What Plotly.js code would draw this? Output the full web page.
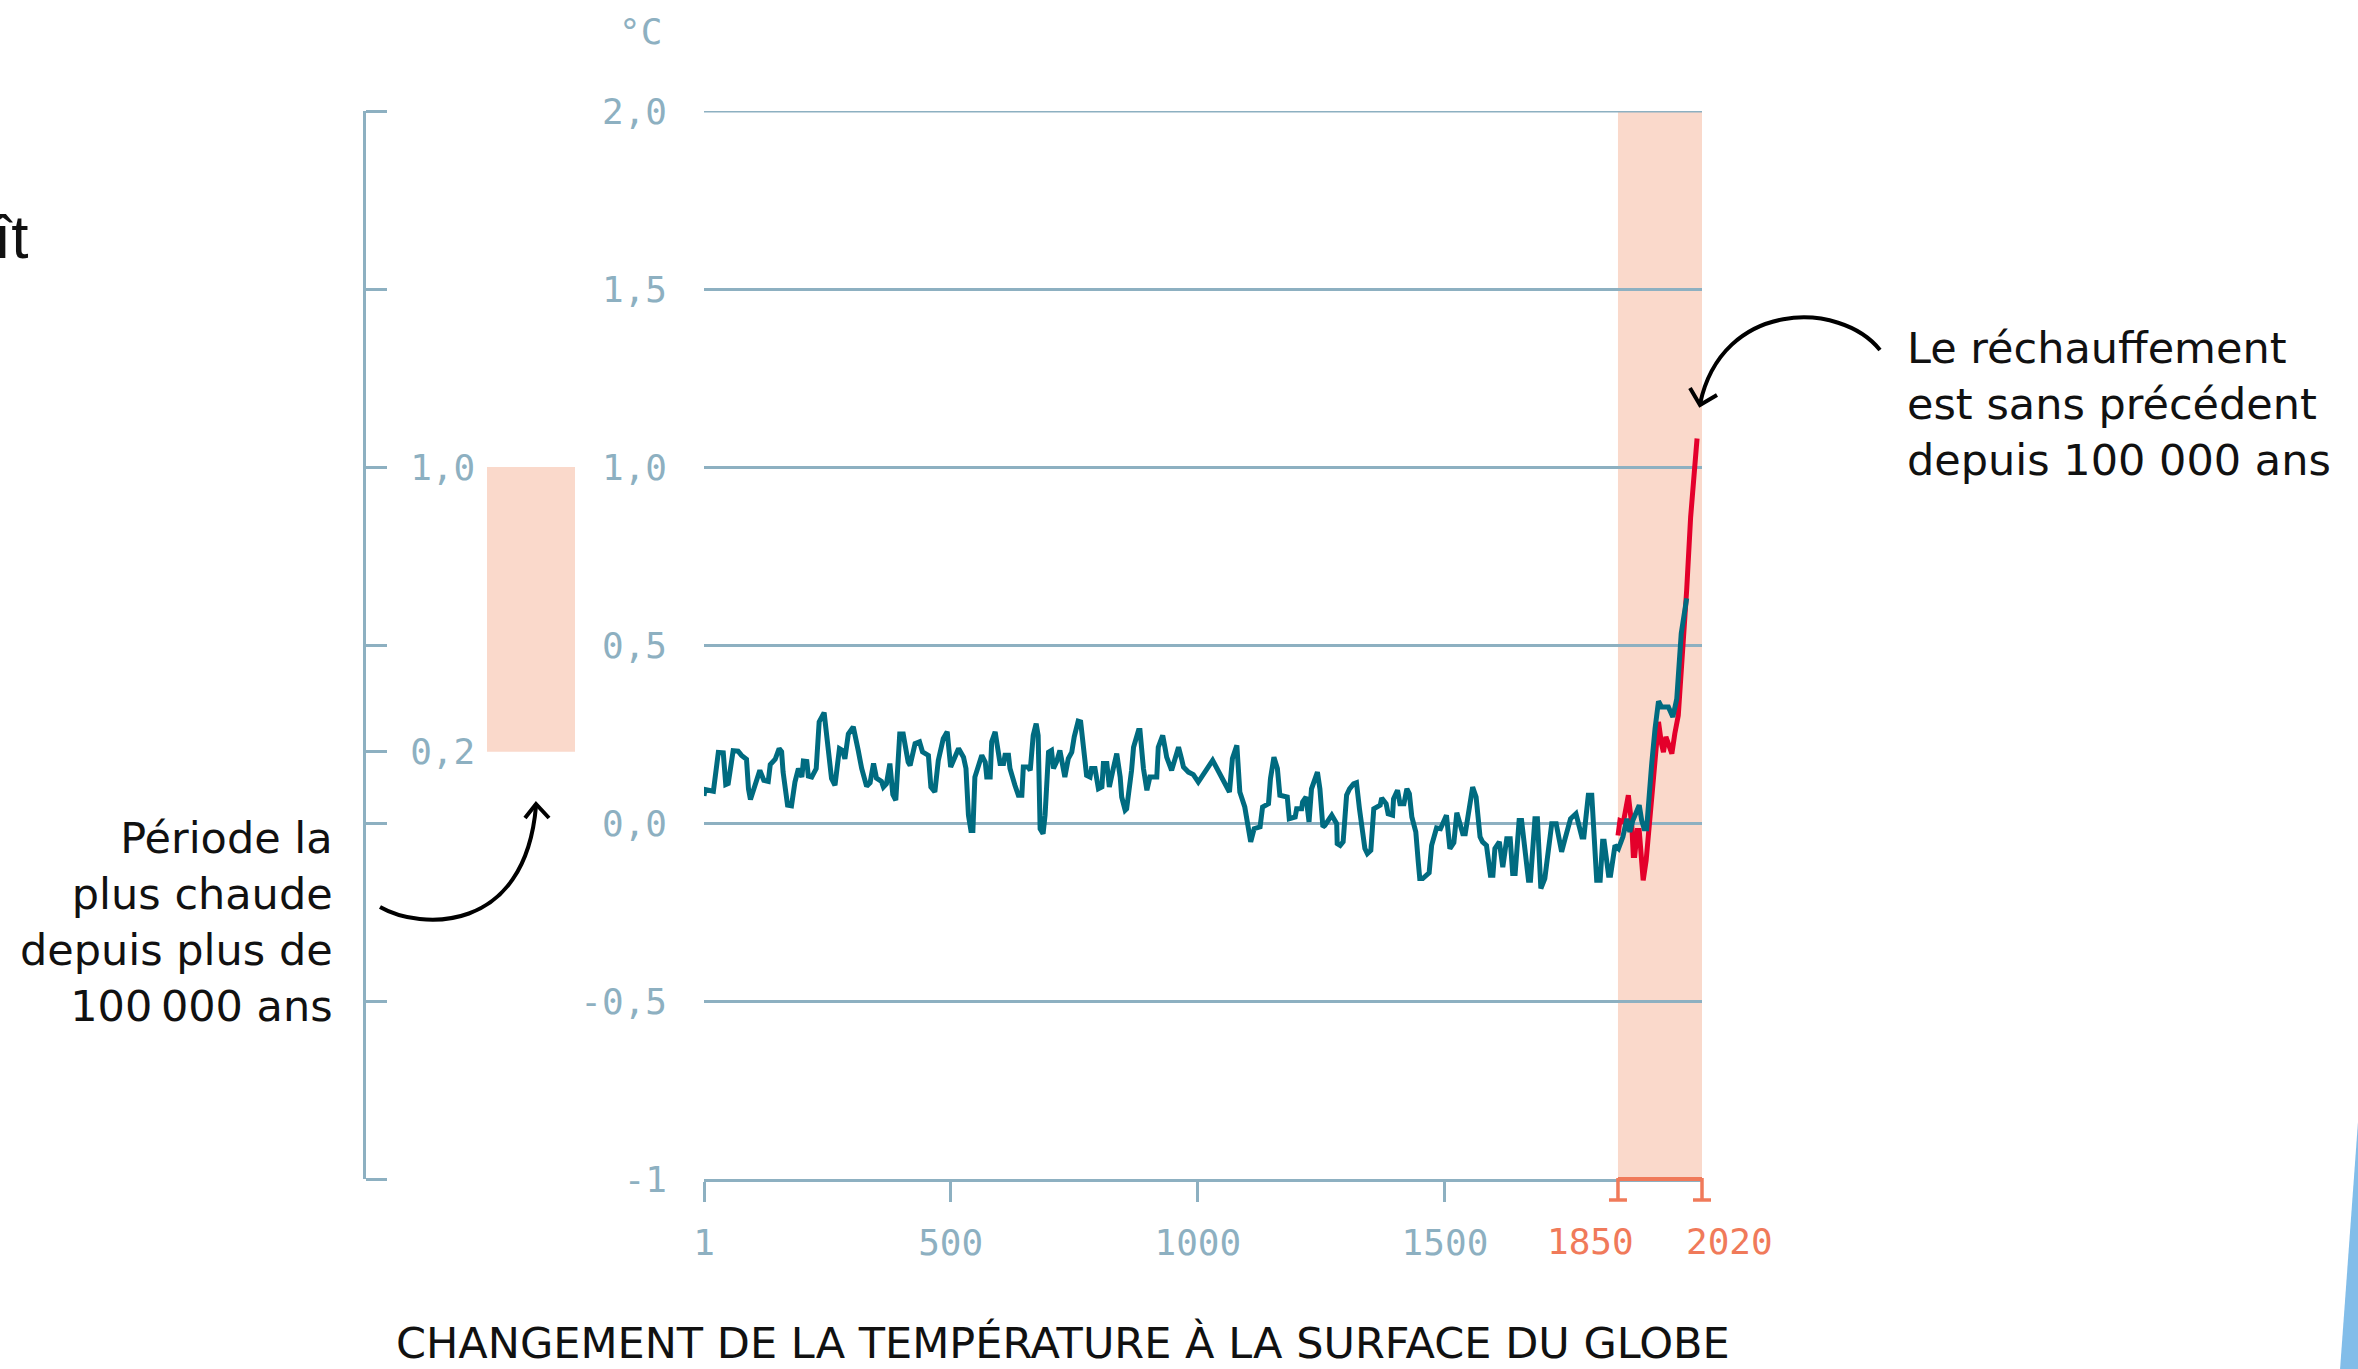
<!DOCTYPE html>
<html><head><meta charset="utf-8">
<script src="https://cdn.plot.ly/plotly-3.0.1.min.js"></script>
<style>html,body{margin:0;padding:0;background:#fff;overflow:hidden}#chart{width:2358px;height:1369px}</style>
</head><body><div id="chart"></div>
<script>
// ---------- data ----------
const reconYears = [1,3,20,30,40,45,50,60,70,77,87,91,95,102,108,114,122,131,135,145,153,158,161,170,178,185,192,199,202,209,212,219,228,234,244,249,259,266,275,281,286,293,303,313,320,330,337,344,350,360,364,370,377,383,389,397,404,414,418,428,437,443,455,460,468,475,485,493,500,
516,526,531,536,541,545,549,556,563,570,573,580,583,590,597,600,607,610,617,620,630,637,644,647,657,661,667,673,677,681,687,691,698,704,708,714,721,728,731,738,745,750,758,763,768,775,782,785,792,795,799,806,809,816,821,829,836,843,846,853,856,866,870,880,883,890,897,903,917,920,929,934,937,947,954,961,967,971,981,991,1001,
1030,1064,1070,1079,1085,1095,1102,1107,1114,1126,1131,1143,1147,1154,1161,1166,1181,1185,1197,1200,1210,1212,1219,1222,1225,1230,1242,1247,1253,1257,1271,1281,1282,1288,1294,1301,1307,1315,1321,1327,1333,1338,1343,1350,1356,1369,1372,1381,1385,1394,1396,1404,1409,1417,1423,1428,1433,1441,1446,1449,1455,1468,1473,1483,1491,1497,1503,
1510,1518,1524,1536,1541,1556,1563,1571,1576,1584,1592,1597,1601,1610,1617,1625,1632,1637,1642,1650,1655,1662,1669,1673,1682,1687,1694,1702,1709,1716,1725,1736,1743,1754,1765,1777,1781,1790,1797,1807,1814,1819,1822,1831,1835,1844,1851,1860,1868,1874,1880,1888,1893,1898,1903,1908,1915,1918,1925,1932,1938,1952,1961,1969,1978,1989];
const reconTemp = [0.076,0.094,0.089,0.198,0.197,0.108,0.111,0.203,0.202,0.190,0.179,0.096,0.066,0.096,0.132,0.148,0.120,0.117,0.164,0.179,0.209,0.200,0.143,0.050,0.048,0.115,0.153,0.129,0.174,0.173,0.132,0.129,0.153,0.284,0.310,0.237,0.125,0.106,0.209,0.204,0.180,0.250,0.270,0.204,0.153,0.103,0.113,0.167,0.126,0.117,0.101,0.110,0.167,0.080,0.064,0.250,0.250,0.171,0.162,0.223,0.228,0.200,0.190,0.101,0.087,0.176,0.237,0.256,0.157,
0.209,0.185,0.153,0.022,-0.021,-0.021,0.129,0.157,0.190,0.171,0.129,0.129,0.228,0.256,0.204,0.167,0.167,0.190,0.190,0.153,0.106,0.078,0.078,0.157,0.157,0.148,0.246,0.279,0.246,-0.016,-0.030,0.022,0.199,0.204,0.153,0.171,0.204,0.153,0.129,0.181,0.199,0.242,0.286,0.284,0.228,0.134,0.129,0.153,0.153,0.120,0.096,0.101,0.167,0.167,0.101,0.153,0.195,0.129,0.073,0.036,0.040,0.148,0.213,0.260,0.260,0.153,0.092,0.129,0.129,0.213,0.246,0.209,0.185,0.148,0.176,0.213,0.181,0.157,0.143,0.136,0.115,
0.176,0.087,0.181,0.218,0.087,0.045,-0.025,-0.053,-0.016,-0.011,0.045,0.054,0.125,0.185,0.153,0.078,0.073,0.012,0.017,0.040,0.040,0.059,0.073,0.031,0.003,0.096,0.143,0.096,-0.011,-0.007,0.022,-0.002,-0.058,-0.063,-0.053,0.078,0.096,0.110,0.113,0.040,-0.025,-0.072,-0.086,-0.077,0.040,0.050,0.070,0.054,0.026,0.022,0.068,0.092,0.054,0.054,0.096,0.082,0.017,-0.025,-0.110,-0.156,-0.156,-0.140,-0.063,-0.014,-0.016,0.007,0.022,
-0.072,-0.055,0.029,-0.030,-0.030,0.101,0.073,-0.039,-0.053,-0.063,-0.147,-0.147,-0.072,-0.053,-0.124,-0.044,-0.044,-0.142,-0.142,0.007,0.007,-0.091,-0.161,-0.161,0.012,0.012,-0.184,-0.156,-0.063,-0.002,-0.002,-0.081,-0.044,0.012,0.026,-0.039,-0.039,0.078,0.078,-0.161,-0.161,-0.051,-0.051,-0.147,-0.147,-0.063,-0.072,-0.039,0.012,-0.025,0.007,0.031,0.050,0.007,-0.016,-0.016,0.125,0.162,0.265,0.342,0.326,0.326,0.298,0.349,0.532,0.631];
const obsYears = [1850,1854,1861,1871,1878,1881,1884,1889,1893,1901,1907,1915,1923,1932,1938,1942,1947,1952,1959,1965,1972,1989,1997,2010];
const obsTemp  = [-0.035,0.007,0.003,0.078,-0.007,-0.091,-0.091,-0.021,-0.021,-0.161,-0.105,0.012,0.162,0.284,0.223,0.199,0.242,0.223,0.195,0.251,0.302,0.655,0.859,1.080];

const yTickVals = [-1,-0.5,0,0.5,1,1.5,2];
const yTickText = ['-1','-0,5','0,0','0,5','1,0','1,5','2,0'];
const xTickVals = [1,500,1000,1500];
const xTickText = ['1','500','1000','1500'];
const recentPeriod = [1850,2020];
const recentLabels = ['1850','2020'];
const paleoTickVals = [-1,-0.5,0,0.2,0.5,1,1.5,2];
const paleoTickText = ['','','','0,2','','1,0','',''];
const paleoRange = [0.2,1.0];
const yRange = [-1,2];
const xRange = [1,2020];
const unitLabel = '°C';
const chartTitle = 'CHANGEMENT DE LA TEMPÉRATURE À LA SURFACE DU GLOBE';
const noteRight = ['Le réchauffement','est sans précédent','depuis 100 000 ans'];
const noteLeft = ['Période la','plus chaude','depuis plus de','100\u202F000 ans'];
const cutText = 'ît';

// ---------- style ----------
const W=2358, H=1369, ml=364, mt=111, pw=1338, ph=1068;
const mr=W-ml-pw, mb=H-mt-ph;
const gridC='#8db0c1', teal='#006b80', redC='#e4002b', pink='#fad9cb', orange='#f07a5a';
const mono='"DejaVu Sans Mono", monospace';
const sans='"DejaVu Sans", "Noto Sans", sans-serif';
const px2x = p => (p-ml)/pw;
const py2y = p => 1-(p-mt)/ph;
const pt = (x,y) => px2x(x).toFixed(5)+','+py2y(y).toFixed(5);
const xDom = [px2x(704),1];
const yearToPaper = v => xDom[0] + (v-xRange[0])/(xRange[1]-xRange[0])*(xDom[1]-xDom[0]);

const traces = [
  {x:obsYears, y:obsTemp, type:'scatter', mode:'lines', line:{color:redC,width:5}, hoverinfo:'skip', xaxis:'x', yaxis:'y'},
  {x:reconYears, y:reconTemp, type:'scatter', mode:'lines', line:{color:teal,width:5}, hoverinfo:'skip', xaxis:'x', yaxis:'y'},
  // carrier for the left (100 000-year) scale
  {x:[xRange[0],xRange[0]], y:paleoRange, type:'scatter', mode:'lines', line:{width:0,color:'rgba(0,0,0,0)'}, opacity:0, hoverinfo:'skip', xaxis:'x', yaxis:'y2'}
];

const shapes = [
  {type:'rect', xref:'x', yref:'y', x0:recentPeriod[0], x1:recentPeriod[1], y0:yRange[0], y1:yRange[1], fillcolor:pink, line:{width:0}, layer:'below'},
  {type:'line', xref:'x', yref:'y', x0:xRange[0], x1:xRange[1], y0:yRange[1], y1:yRange[1], line:{color:gridC,width:3}, layer:'below'},
  {type:'rect', xref:'paper', yref:'y', x0:px2x(487), x1:px2x(575), y0:paleoRange[0], y1:paleoRange[1], fillcolor:pink, line:{width:0}, layer:'below'},
  {type:'line', xref:'paper', yref:'paper', x0:yearToPaper(recentPeriod[0]), x1:yearToPaper(recentPeriod[1]), y0:0, y1:0, line:{color:orange,width:4}},
];
recentPeriod.forEach(v=>{
  const xp = yearToPaper(v);
  shapes.push({type:'line', xref:'paper', yref:'paper', x0:xp, x1:xp, ysizemode:'pixel', yanchor:0, y0:1, y1:-21, line:{color:orange,width:3.5}});
  shapes.push({type:'line', xref:'paper', yref:'paper', xsizemode:'pixel', xanchor:xp, x0:-9, x1:9, ysizemode:'pixel', yanchor:0, y0:-21, y1:-21, line:{color:orange,width:3.5}});
});
// curved arrows
shapes.push({type:'path', xref:'paper', yref:'paper', line:{color:'#000',width:4},
  path:'M'+pt(1880,350)+' C'+pt(1840,300)+' '+pt(1722,300)+' '+pt(1700,404)});
shapes.push({type:'path', xref:'paper', yref:'paper', line:{color:'#000',width:4},
  path:'M'+pt(1690,388)+' L'+pt(1700,405)+' L'+pt(1717,395)});
shapes.push({type:'path', xref:'paper', yref:'paper', line:{color:'#000',width:4},
  path:'M'+pt(380,907)+' C'+pt(420,930)+' '+pt(525,935)+' '+pt(536,806)});
shapes.push({type:'path', xref:'paper', yref:'paper', line:{color:'#000',width:4},
  path:'M'+pt(525,818)+' L'+pt(536,804)+' L'+pt(549,818)});
// blue sliver in corner
shapes.push({type:'path', xref:'paper', yref:'paper', line:{width:0}, fillcolor:'#82bde9',
  path:'M'+pt(2359,1108)+' L'+pt(2340,1370)+' L'+pt(2359,1370)+' Z'});

const annotations = [
  {text:unitLabel, xref:'paper', yref:'paper', x:px2x(664), y:py2y(31), xanchor:'right', yanchor:'middle', showarrow:false, font:{family:mono,size:36,color:gridC}},
  {text:chartTitle, xref:'paper', yref:'paper', x:px2x(1063), y:py2y(1343), xanchor:'center', yanchor:'middle', showarrow:false, font:{family:sans,size:43,color:'#111'}},
  {text:cutText, xref:'paper', yref:'paper', x:px2x(30), y:py2y(236), xanchor:'right', yanchor:'middle', showarrow:false, font:{family:'"Liberation Sans", Arial, sans-serif',size:62,color:'#111'}},
  {text:noteRight.join('<br>'), xref:'paper', yref:'paper', x:px2x(1905), y:py2y(404), xanchor:'left', yanchor:'middle', align:'left', showarrow:false, font:{family:sans,size:43,color:'#111'}},
  {text:noteLeft.join('<br>'), xref:'paper', yref:'paper', x:px2x(335), y:py2y(922), xanchor:'right', yanchor:'middle', align:'right', showarrow:false, font:{family:sans,size:43,color:'#111'}},
];
recentLabels.forEach((t,i)=>{
  annotations.push({text:t, xref:'x', yref:'y', x:recentPeriod[i], y:yRange[0], xanchor:'center', yanchor:'middle', xshift:i===0?-27:27, yshift:-62, showarrow:false, font:{family:mono,size:36,color:orange}});
});

const layout = {
  width:W, height:H, autosize:false,
  margin:{l:ml, r:mr, t:mt, b:mb, autoexpand:false},
  paper_bgcolor:'#fff', plot_bgcolor:'rgba(0,0,0,0)',
  showlegend:false, hovermode:false,
  xaxis:{domain:xDom, range:xRange, anchor:'y', showgrid:false, zeroline:false,
    showline:true, linecolor:gridC, linewidth:3,
    tickmode:'array', tickvals:xTickVals, ticktext:xTickText, ticks:'outside', ticklen:20, tickwidth:3, tickcolor:gridC,
    ticklabelstandoff:10, tickfont:{family:mono,size:36,color:gridC}},
  yaxis:{range:yRange, anchor:'x', showgrid:true, gridcolor:gridC, gridwidth:3, zeroline:false, showline:false,
    tickmode:'array', tickvals:yTickVals, ticktext:yTickText, ticks:'', ticklabelstandoff:36,
    tickfont:{family:mono,size:36,color:gridC}},
  yaxis2:{range:yRange, overlaying:'y', anchor:'free', position:0, side:'right', showgrid:false, zeroline:false,
    showline:true, linecolor:gridC, linewidth:3,
    tickmode:'array', tickvals:paleoTickVals, ticktext:paleoTickText, ticks:'outside', ticklen:21, tickwidth:3, tickcolor:gridC,
    ticklabelstandoff:16, tickfont:{family:mono,size:36,color:gridC}},
  shapes:shapes, annotations:annotations
};
Plotly.newPlot('chart', traces, layout, {staticPlot:true, displayModeBar:false});
</script></body></html>
